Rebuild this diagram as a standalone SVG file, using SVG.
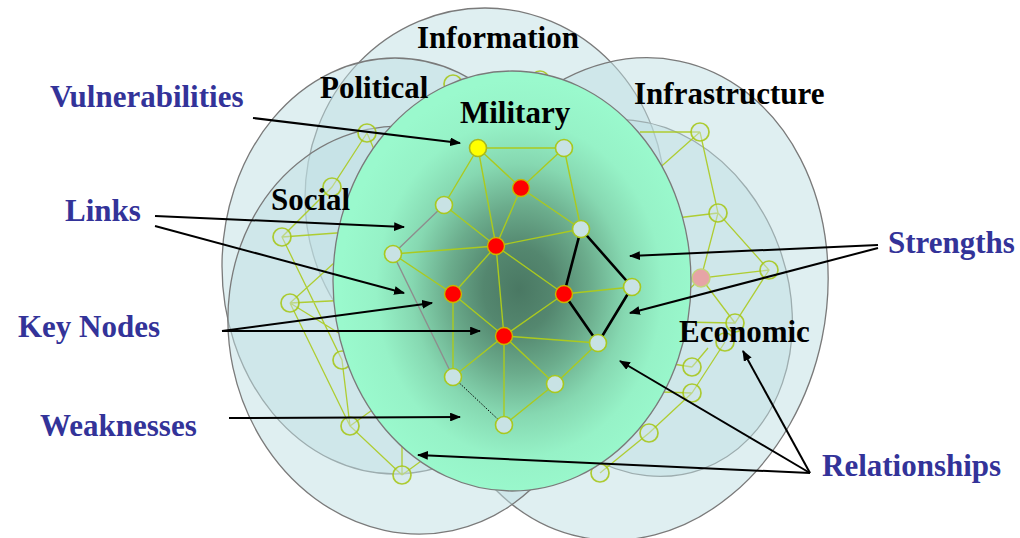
<svg xmlns="http://www.w3.org/2000/svg" width="1020" height="538" viewBox="0 0 1020 538">
<defs>
<style>
.sph{fill:#BFE0E4;fill-opacity:0.5;stroke:#7A7A7A;stroke-width:1.3}
.lbl{font-family:"Liberation Serif","Times New Roman",serif;font-weight:bold;font-size:31px;fill:#000}
.blue{fill:#333399}
.bge{stroke:#ABCA1E;stroke-width:1.3;fill:none;opacity:0.9}
.bgn{fill:#CFE6E9;fill-opacity:0.5;stroke:#A8C81E;stroke-width:1.7;opacity:0.9}
.me{stroke:#ABCA1E;stroke-width:1.4;fill:none}
.mg{stroke:#8E8E8E;stroke-width:1.4;fill:none}
.mk{stroke:#000;stroke-width:2.6;fill:none}
.mn{fill:#C8E2E4;stroke:#A8C81E;stroke-width:1.6}
.mr{fill:#FF0000;stroke:#C8B800;stroke-width:1.4}
.my{fill:#FFFF00;stroke:#A8B81E;stroke-width:1.6}
.arr{stroke:#000;stroke-width:2;fill:none;marker-end:url(#ah)}
</style>
<marker id="ah" viewBox="0 0 10 8" refX="9" refY="4" markerWidth="5.5" markerHeight="4.4" orient="auto" markerUnits="strokeWidth">
<path d="M0,0 L10,4 L0,8 z" fill="#000"/>
</marker>
<radialGradient id="milg" cx="0.52" cy="0.52" r="0.5">
<stop offset="0" stop-color="#4A7863"/>
<stop offset="0.2" stop-color="#54876F"/>
<stop offset="0.4" stop-color="#6BAC8C"/>
<stop offset="0.6" stop-color="#86D8B1"/>
<stop offset="0.8" stop-color="#96F2C7"/>
<stop offset="1" stop-color="#9AF9CD"/>
</radialGradient>
</defs>

<g id="sphere-information"><ellipse class="sph" cx="485" cy="198" rx="180" ry="190"/></g>
<g id="sphere-economic"><ellipse class="sph" cx="0" cy="0" rx="148" ry="182" transform="translate(640,298) rotate(-20)"/></g>
<g id="sphere-political"><ellipse class="sph" cx="395" cy="266" rx="173" ry="208"/></g>
<g id="sphere-infrastructure"><ellipse class="sph" cx="0" cy="0" rx="196" ry="243" transform="translate(630,299) rotate(11.7)"/></g>
<g id="sphere-social"><ellipse class="sph" cx="0" cy="0" rx="181" ry="205" transform="translate(410,330) rotate(-12)"/></g>

<g id="background-networks">
<path class="bge" d="M367,133 L332,187 L282,237 L342,360 L350,426 L402,475 M367,133 L385,175 M282,237 L350,232 M290,303 L350,300 M290,303 L345,253 M290,303 L350,340 M290,303 L350,426 M350,426 L375,408 M402,475 L402,440 M402,475 L428,456"/>
<path class="bge" d="M700,132 L640,132 M700,132 L655,172 M700,132 L718,213 L769,270 L735,323 L701,278 L769,270 M718,213 L660,220 M718,213 L701,278 M701,278 L678,300 M735,323 L680,322 M725,342 L692,393 M692,367 L660,362 M692,367 L708,348 M692,393 L662,392 M692,393 L649,433 L600,473"/>
<g id="bg-node-1"><circle class="bgn" cx="453" cy="84" r="9"/></g>
<g id="bg-node-2"><circle class="bgn" cx="540" cy="80" r="9"/></g>
<g id="bg-node-3"><circle class="bgn" cx="367" cy="133" r="9"/></g>
<g id="bg-node-4"><circle class="bgn" cx="332" cy="187" r="9"/></g>
<g id="bg-node-5"><circle class="bgn" cx="282" cy="237" r="9"/></g>
<g id="bg-node-6"><circle class="bgn" cx="290" cy="303" r="9"/></g>
<g id="bg-node-7"><circle class="bgn" cx="342" cy="360" r="9"/></g>
<g id="bg-node-8"><circle class="bgn" cx="350" cy="426" r="9"/></g>
<g id="bg-node-9"><circle class="bgn" cx="402" cy="475" r="9"/></g>
<g id="bg-node-10"><circle class="bgn" cx="700" cy="132" r="9"/></g>
<g id="bg-node-11"><circle class="bgn" cx="718" cy="213" r="9"/></g>
<g id="bg-node-12"><circle class="bgn" cx="769" cy="270" r="9"/></g>
<g id="bg-node-13"><circle cx="701" cy="278" r="9" fill="#E6A4A6" stroke="#C4D47A" stroke-width="1.4"/></g>
<g id="bg-node-14"><circle class="bgn" cx="735" cy="323" r="9"/></g>
<g id="bg-node-15"><circle class="bgn" cx="725" cy="342" r="9"/></g>
<g id="bg-node-16"><circle class="bgn" cx="692" cy="367" r="9"/></g>
<g id="bg-node-17"><circle class="bgn" cx="692" cy="393" r="9"/></g>
<g id="bg-node-18"><circle class="bgn" cx="649" cy="433" r="9"/></g>
<g id="bg-node-19"><circle class="bgn" cx="600" cy="473" r="9"/></g>
</g>

<g id="sphere-military"><ellipse cx="512" cy="281" rx="179" ry="210" fill="url(#milg)" stroke="#7A7A7A" stroke-width="1.3"/></g>

<g id="military-links">
<path class="me" d="M478,148 L564,148 M478,148 L521,188 M478,148 L444,205 M478,148 L496,246 M564,148 L521,188 M564,148 L581,229 M521,188 L496,246 M521,188 L581,229 M444,205 L496,246 M393,254 L496,246 M393,254 L453,294 M496,246 L581,229 M496,246 L453,294 M496,246 L564,294 M496,246 L504,336 M564,294 L632,287 M564,294 L504,336 M453,294 L504,336 M453,294 L453,377 M504,336 L453,377 M504,336 L598,343 M504,336 L555,384 M504,336 L504,425 M598,343 L555,384 M555,384 L504,425"/>
<path class="mg" d="M444,205 L393,254 M393,254 L453,377"/>
<path class="mk" d="M581,229 L564,294 M581,229 L632,287 M564,294 L598,343 M632,287 L598,343"/>
<path d="M453,377 L504,425" stroke="#000" stroke-width="1" stroke-dasharray="1.5,1.5" fill="none"/>
</g>

<g id="mil-node-yellow"><circle class="my" cx="478" cy="148" r="8.5"/></g>
<g id="mil-node-1"><circle class="mn" cx="564" cy="148" r="8.5"/></g>
<g id="mil-node-red-1"><circle class="mr" cx="521" cy="188" r="8.5"/></g>
<g id="mil-node-2"><circle class="mn" cx="444" cy="205" r="8.5"/></g>
<g id="mil-node-3"><circle class="mn" cx="581" cy="229" r="8.5"/></g>
<g id="mil-node-red-2"><circle class="mr" cx="496" cy="246" r="8.5"/></g>
<g id="mil-node-4"><circle class="mn" cx="393" cy="254" r="8.5"/></g>
<g id="mil-node-red-3"><circle class="mr" cx="453" cy="294" r="8.5"/></g>
<g id="mil-node-red-4"><circle class="mr" cx="564" cy="294" r="8.5"/></g>
<g id="mil-node-5"><circle class="mn" cx="632" cy="287" r="8.5"/></g>
<g id="mil-node-red-5"><circle class="mr" cx="504" cy="336" r="8.5"/></g>
<g id="mil-node-6"><circle class="mn" cx="598" cy="343" r="8.5"/></g>
<g id="mil-node-7"><circle class="mn" cx="453" cy="377" r="8.5"/></g>
<g id="mil-node-8"><circle class="mn" cx="555" cy="384" r="8.5"/></g>
<g id="mil-node-9"><circle class="mn" cx="504" cy="425" r="8.5"/></g>

<g id="label-information"><text class="lbl" x="417" y="48">Information</text></g>
<g id="label-political"><text class="lbl" x="320" y="98">Political</text></g>
<g id="label-military"><text class="lbl" x="460" y="123">Military</text></g>
<g id="label-infrastructure"><text class="lbl" x="634" y="104">Infrastructure</text></g>
<g id="label-social"><text class="lbl" x="271" y="210">Social</text></g>
<g id="label-economic"><text class="lbl" x="679" y="342">Economic</text></g>

<g id="label-vulnerabilities"><text class="lbl blue" x="50" y="107">Vulnerabilities</text></g>
<g id="label-links"><text class="lbl blue" x="65" y="221">Links</text></g>
<g id="label-key-nodes"><text class="lbl blue" x="18" y="337">Key Nodes</text></g>
<g id="label-weaknesses"><text class="lbl blue" x="40" y="436">Weaknesses</text></g>
<g id="label-strengths"><text class="lbl blue" x="888" y="253">Strengths</text></g>
<g id="label-relationships"><text class="lbl blue" x="822" y="476">Relationships</text></g>

<g id="connectors">
<path class="arr" d="M253,118 L460,143"/>
<path class="arr" d="M155,216 L404,227"/>
<path class="arr" d="M155,226 L404,293"/>
<path class="arr" d="M222,331 L432,303"/>
<path class="arr" d="M222,331 L480,331"/>
<path class="arr" d="M229,418 L460,417"/>
<path class="arr" d="M878,245 L630,256"/>
<path class="arr" d="M878,248 L630,313"/>
<path class="arr" d="M810,473 L620,361"/>
<path class="arr" d="M810,473 L743,351"/>
<path class="arr" d="M810,473 L418,455"/>
</g>
</svg>
